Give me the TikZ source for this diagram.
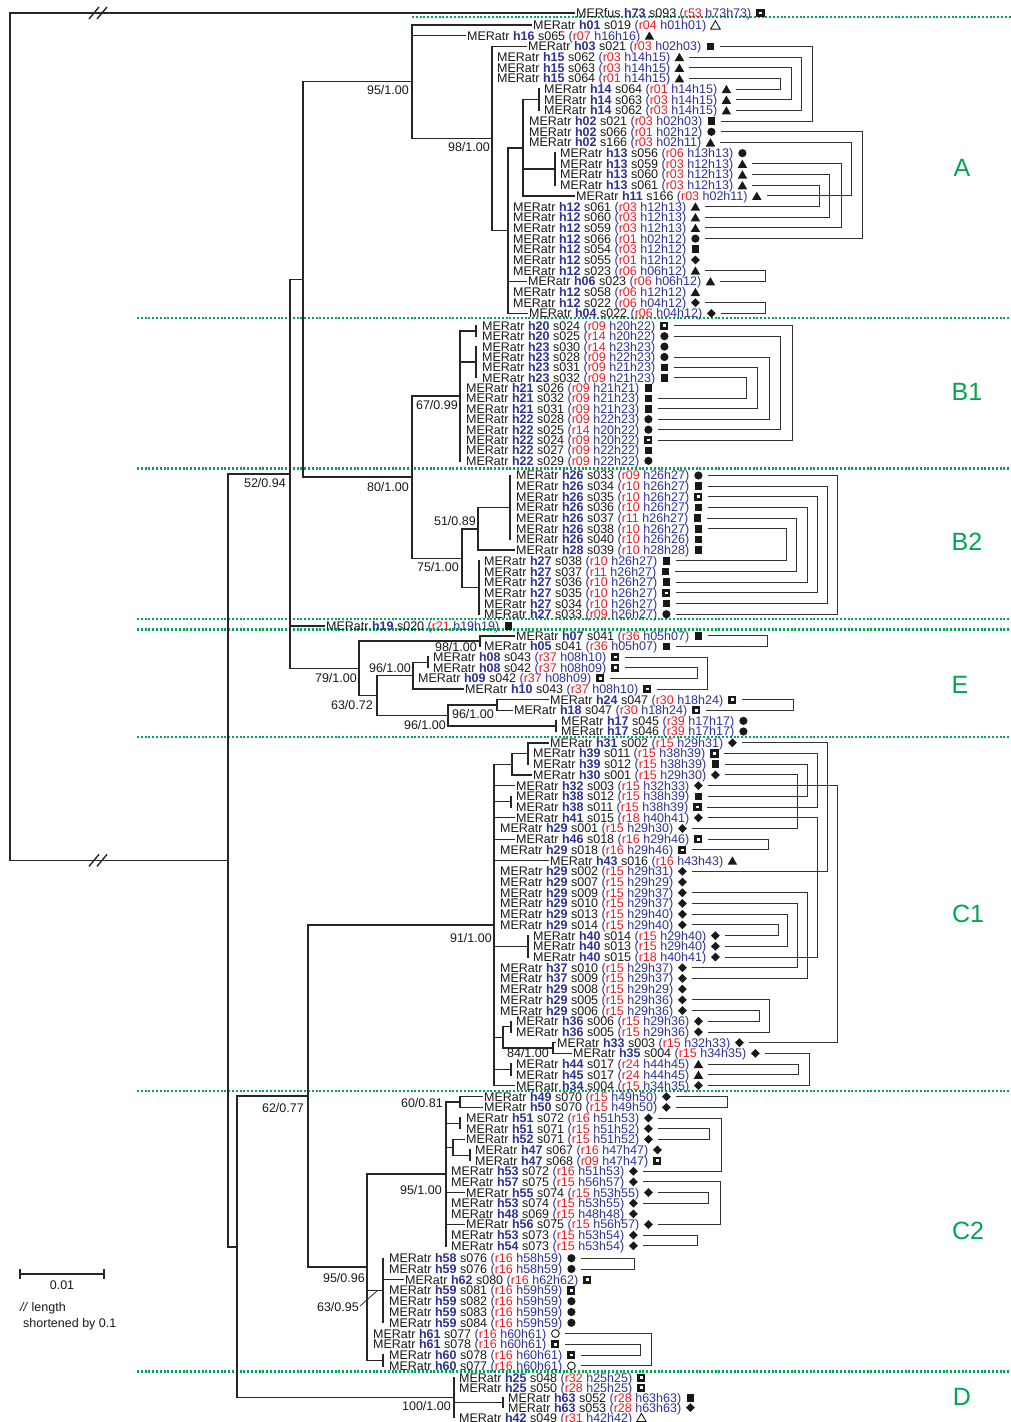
\documentclass[tikz,border=0pt]{standalone}
\usepackage{fontspec}
\setmainfont{Liberation Sans}
\usetikzlibrary{shapes.geometric}
\definecolor{hblue}{RGB}{46,49,146}
\definecolor{rred}{RGB}{237,28,36}
\definecolor{ggreen}{RGB}{0,166,81}
\newcommand\hB[1]{\textcolor{hblue}{\textbf{#1}}}
\newcommand\hN[1]{\textcolor{hblue}{#1}}
\newcommand\rR[1]{\textcolor{rred}{#1}}
\pgfmathdeclarefunction{rw}{1}{\pgfmathparse{(#1<2) ? 13 : ((#1<30) ? (25+(#1-2)*10.68) : ((#1<44) ? (325.8+(#1-30)*10.385) : ((#1<58) ? (475.5+(#1-44)*10.67) : ((#1<59) ? 626 : ((#1<69) ? (635.8+(#1-59)*10.63) : ((#1<102) ? (742.8+(#1-69)*10.71) : ((#1<117) ? (1096.7+(#1-102)*10.65) : ((#1<128) ? (1258.2+(#1-117)*10.76) : (1377.8+(#1-128)*9.95)))))))))}}
\newcommand\Lf[7]{%
 \node[lbl] (L#1) at (#2,{rw(#1)+4.47}) {MERatr \hB{#3} #4 \hN{(}\rR{#5} \hN{#6)}};
 \node[#7] (S#1) at ([xshift=9pt,yshift=4.47pt]L#1.base east) {};}
\newcommand\Hz[2]{\draw[tln] (#1,{rw(#2)}) -- ([xshift=-2pt,yshift=4.47pt]L#2.base west);}
\newcommand\Vt[3]{\draw[tln] (#1,{#2}) -- (#1,{#3});}
\newcommand\Hb[3]{\draw[tln] (#1,{#3}) -- (#2,{#3});}
\newcommand\Bk[3]{\draw[bkl] ([xshift=19pt,yshift=4.47pt]L#1.base east) -- (#3,{rw(#1)}) -- (#3,{rw(#2)}) -- ([xshift=19pt,yshift=4.47pt]L#2.base east);}
\newcommand\Bs[3]{\node[bsl] at (#1,{#2+4.47}) {#3};}
\begin{document}
\begin{tikzpicture}[x=1pt,y=-1pt,
  lbl/.style={anchor=base west,inner sep=0pt,font=\fontsize{12.5}{13}\selectfont,text=black!90},
  bsl/.style={anchor=base east,inner sep=0pt,font=\fontsize{12.5}{13}\selectfont,text=black!90},
  cll/.style={inner sep=0pt,font=\fontsize{25}{27}\selectfont,text=ggreen},
  tln/.style={line width=1.4pt,draw=black!85,line cap=rect},
  bkl/.style={line width=0.9pt,draw=black!80},
  gln/.style={draw=ggreen,line width=2.1pt,dash pattern=on 2pt off 1.8pt},
  sySq/.style={rectangle,fill=black!90,minimum size=7.6pt,inner sep=0pt},
  syDs/.style={rectangle,draw=black!90,fill=white,line width=2.7pt,minimum size=5.4pt,inner sep=0pt},
  syCi/.style={circle,fill=black!90,minimum size=8.2pt,inner sep=0pt},
  syOc/.style={circle,draw=black!90,line width=0.9pt,minimum size=7.8pt,inner sep=0pt},
  syTr/.style={regular polygon,regular polygon sides=3,fill=black!90,minimum size=11pt,inner sep=0pt,yshift=-1.3pt},
  syOt/.style={regular polygon,regular polygon sides=3,draw=black!90,line width=0.9pt,minimum size=11pt,inner sep=0pt,yshift=-1.3pt},
  syDm/.style={diamond,fill=black!90,minimum size=9pt,inner sep=0pt}]
\useasboundingbox (0,0) rectangle (1011,1422);
\fill[white] (0,0) rectangle (1011,1422);
% green separators
\draw[gln] (412,17) -- (1011,17);
\foreach \gy in {318,468.5,619,629.5,737,1091,1371.5} {\draw[gln] (137,\gy) -- (1011,\gy);}
% leaves
\node[lbl] (L1) at (576,{rw(1)+4.47}) {MERfus \hB{h73} s093 \hN{(}\rR{r53} \hN{h73h73)}};
\node[syDs] (S1) at ([xshift=9pt,yshift=4.47pt]L1.base east) {};
\Lf{2}{533}{h01}{s019}{r04}{h01h01}{syOt}
\Lf{3}{467}{h16}{s065}{r07}{h16h16}{syTr}
\Lf{4}{528}{h03}{s021}{r03}{h02h03}{sySq}
\Lf{5}{497}{h15}{s062}{r03}{h14h15}{syTr}
\Lf{6}{497}{h15}{s063}{r03}{h14h15}{syTr}
\Lf{7}{497}{h15}{s064}{r01}{h14h15}{syTr}
\Lf{8}{544}{h14}{s064}{r01}{h14h15}{syTr}
\Lf{9}{544}{h14}{s063}{r03}{h14h15}{syTr}
\Lf{10}{544}{h14}{s062}{r03}{h14h15}{syTr}
\Lf{11}{529}{h02}{s021}{r03}{h02h03}{sySq}
\Lf{12}{529}{h02}{s066}{r01}{h02h12}{syCi}
\Lf{13}{529}{h02}{s166}{r03}{h02h11}{syTr}
\Lf{14}{560}{h13}{s056}{r06}{h13h13}{syCi}
\Lf{15}{560}{h13}{s059}{r03}{h12h13}{syTr}
\Lf{16}{560}{h13}{s060}{r03}{h12h13}{syTr}
\Lf{17}{560}{h13}{s061}{r03}{h12h13}{syTr}
\Lf{18}{576}{h11}{s166}{r03}{h02h11}{syTr}
\Lf{19}{513}{h12}{s061}{r03}{h12h13}{syTr}
\Lf{20}{513}{h12}{s060}{r03}{h12h13}{syTr}
\Lf{21}{513}{h12}{s059}{r03}{h12h13}{syTr}
\Lf{22}{513}{h12}{s066}{r01}{h02h12}{syCi}
\Lf{23}{513}{h12}{s054}{r03}{h12h12}{sySq}
\Lf{24}{513}{h12}{s055}{r01}{h12h12}{syDm}
\Lf{25}{513}{h12}{s023}{r06}{h06h12}{syTr}
\Lf{26}{528}{h06}{s023}{r06}{h06h12}{syTr}
\Lf{27}{513}{h12}{s058}{r06}{h12h12}{syTr}
\Lf{28}{513}{h12}{s022}{r06}{h04h12}{syDm}
\Lf{29}{529}{h04}{s022}{r06}{h04h12}{syDm}
\Lf{30}{482}{h20}{s024}{r09}{h20h22}{syDs}
\Lf{31}{482}{h20}{s025}{r14}{h20h22}{syCi}
\Lf{32}{482}{h23}{s030}{r14}{h23h23}{syCi}
\Lf{33}{482}{h23}{s028}{r09}{h22h23}{syCi}
\Lf{34}{482}{h23}{s031}{r09}{h21h23}{sySq}
\Lf{35}{482}{h23}{s032}{r09}{h21h23}{sySq}
\Lf{36}{466}{h21}{s026}{r09}{h21h21}{sySq}
\Lf{37}{466}{h21}{s032}{r09}{h21h23}{sySq}
\Lf{38}{466}{h21}{s031}{r09}{h21h23}{sySq}
\Lf{39}{466}{h22}{s028}{r09}{h22h23}{syCi}
\Lf{40}{466}{h22}{s025}{r14}{h20h22}{syCi}
\Lf{41}{466}{h22}{s024}{r09}{h20h22}{syDs}
\Lf{42}{466}{h22}{s027}{r09}{h22h22}{sySq}
\Lf{43}{466}{h22}{s029}{r09}{h22h22}{syCi}
\Lf{44}{516}{h26}{s033}{r09}{h26h27}{syCi}
\Lf{45}{516}{h26}{s034}{r10}{h26h27}{sySq}
\Lf{46}{516}{h26}{s035}{r10}{h26h27}{syDs}
\Lf{47}{516}{h26}{s036}{r10}{h26h27}{sySq}
\Lf{48}{516}{h26}{s037}{r11}{h26h27}{sySq}
\Lf{49}{516}{h26}{s038}{r10}{h26h27}{sySq}
\Lf{50}{516}{h26}{s040}{r10}{h26h26}{sySq}
\Lf{51}{516}{h28}{s039}{r10}{h28h28}{sySq}
\Lf{52}{484}{h27}{s038}{r10}{h26h27}{sySq}
\Lf{53}{484}{h27}{s037}{r11}{h26h27}{sySq}
\Lf{54}{484}{h27}{s036}{r10}{h26h27}{sySq}
\Lf{55}{484}{h27}{s035}{r10}{h26h27}{syDs}
\Lf{56}{484}{h27}{s034}{r10}{h26h27}{sySq}
\Lf{57}{484}{h27}{s033}{r09}{h26h27}{syCi}
\Lf{58}{326}{h19}{s020}{r21}{h19h19}{sySq}
\Lf{59}{516}{h07}{s041}{r36}{h05h07}{sySq}
\Lf{60}{484}{h05}{s041}{r36}{h05h07}{sySq}
\Lf{61}{433}{h08}{s043}{r37}{h08h10}{syDs}
\Lf{62}{433}{h08}{s042}{r37}{h08h09}{syDs}
\Lf{63}{418}{h09}{s042}{r37}{h08h09}{syDs}
\Lf{64}{465}{h10}{s043}{r37}{h08h10}{syDs}
\Lf{65}{550}{h24}{s047}{r30}{h18h24}{syDs}
\Lf{66}{514}{h18}{s047}{r30}{h18h24}{syDs}
\Lf{67}{561}{h17}{s045}{r39}{h17h17}{syCi}
\Lf{68}{561}{h17}{s046}{r39}{h17h17}{syCi}
\Lf{69}{550}{h31}{s002}{r15}{h29h31}{syDm}
\Lf{70}{533}{h39}{s011}{r15}{h38h39}{syDs}
\Lf{71}{533}{h39}{s012}{r15}{h38h39}{sySq}
\Lf{72}{533}{h30}{s001}{r15}{h29h30}{syDm}
\Lf{73}{516}{h32}{s003}{r15}{h32h33}{syDm}
\Lf{74}{516}{h38}{s012}{r15}{h38h39}{sySq}
\Lf{75}{516}{h38}{s011}{r15}{h38h39}{syDs}
\Lf{76}{516}{h41}{s015}{r18}{h40h41}{syDm}
\Lf{77}{500}{h29}{s001}{r15}{h29h30}{syDm}
\Lf{78}{516}{h46}{s018}{r16}{h29h46}{syDs}
\Lf{79}{500}{h29}{s018}{r16}{h29h46}{syDs}
\Lf{80}{550}{h43}{s016}{r16}{h43h43}{syTr}
\Lf{81}{500}{h29}{s002}{r15}{h29h31}{syDm}
\Lf{82}{500}{h29}{s007}{r15}{h29h29}{syDm}
\Lf{83}{500}{h29}{s009}{r15}{h29h37}{syDm}
\Lf{84}{500}{h29}{s010}{r15}{h29h37}{syDm}
\Lf{85}{500}{h29}{s013}{r15}{h29h40}{syDm}
\Lf{86}{500}{h29}{s014}{r15}{h29h40}{syDm}
\Lf{87}{533}{h40}{s014}{r15}{h29h40}{syDm}
\Lf{88}{533}{h40}{s013}{r15}{h29h40}{syDm}
\Lf{89}{533}{h40}{s015}{r18}{h40h41}{syDm}
\Lf{90}{500}{h37}{s010}{r15}{h29h37}{syDm}
\Lf{91}{500}{h37}{s009}{r15}{h29h37}{syDm}
\Lf{92}{500}{h29}{s008}{r15}{h29h29}{syDm}
\Lf{93}{500}{h29}{s005}{r15}{h29h36}{syDm}
\Lf{94}{500}{h29}{s006}{r15}{h29h36}{syDm}
\Lf{95}{516}{h36}{s006}{r15}{h29h36}{syDm}
\Lf{96}{516}{h36}{s005}{r15}{h29h36}{syDm}
\Lf{97}{557}{h33}{s003}{r15}{h32h33}{syDm}
\Lf{98}{573}{h35}{s004}{r15}{h34h35}{syDm}
\Lf{99}{516}{h44}{s017}{r24}{h44h45}{syTr}
\Lf{100}{516}{h45}{s017}{r24}{h44h45}{syTr}
\Lf{101}{516}{h34}{s004}{r15}{h34h35}{syDm}
\Lf{102}{484}{h49}{s070}{r15}{h49h50}{syDm}
\Lf{103}{484}{h50}{s070}{r15}{h49h50}{syDm}
\Lf{104}{466}{h51}{s072}{r16}{h51h53}{syDm}
\Lf{105}{466}{h51}{s071}{r15}{h51h52}{syDm}
\Lf{106}{466}{h52}{s071}{r15}{h51h52}{syDm}
\Lf{107}{475}{h47}{s067}{r16}{h47h47}{syDm}
\Lf{108}{475}{h47}{s068}{r09}{h47h47}{syDs}
\Lf{109}{451}{h53}{s072}{r16}{h51h53}{syDm}
\Lf{110}{451}{h57}{s075}{r15}{h56h57}{syDm}
\Lf{111}{466}{h55}{s074}{r15}{h53h55}{syDm}
\Lf{112}{451}{h53}{s074}{r15}{h53h55}{syDm}
\Lf{113}{451}{h48}{s069}{r15}{h48h48}{syDm}
\Lf{114}{466}{h56}{s075}{r15}{h56h57}{syDm}
\Lf{115}{451}{h53}{s073}{r15}{h53h54}{syDm}
\Lf{116}{451}{h54}{s073}{r15}{h53h54}{syDm}
\Lf{117}{389}{h58}{s076}{r16}{h58h59}{syCi}
\Lf{118}{389}{h59}{s076}{r16}{h58h59}{syCi}
\Lf{119}{405}{h62}{s080}{r16}{h62h62}{syDs}
\Lf{120}{389}{h59}{s081}{r16}{h59h59}{syDs}
\Lf{121}{389}{h59}{s082}{r16}{h59h59}{syCi}
\Lf{122}{389}{h59}{s083}{r16}{h59h59}{syCi}
\Lf{123}{389}{h59}{s084}{r16}{h59h59}{syCi}
\Lf{124}{373}{h61}{s077}{r16}{h60h61}{syOc}
\Lf{125}{373}{h61}{s078}{r16}{h60h61}{syDs}
\Lf{126}{389}{h60}{s078}{r16}{h60h61}{syDs}
\Lf{127}{389}{h60}{s077}{r16}{h60h61}{syOc}
\Lf{128}{459}{h25}{s048}{r32}{h25h25}{syDs}
\Lf{129}{459}{h25}{s050}{r28}{h25h25}{syDs}
\Lf{130}{508}{h63}{s052}{r28}{h63h63}{sySq}
\Lf{131}{508}{h63}{s053}{r28}{h63h63}{syDm}
\Lf{132}{459}{h42}{s049}{r31}{h42h42}{syOt}
% ---------- node heights ----------
\pgfmathsetmacro\yHf{(rw(8)+rw(10))/2}
\pgfmathsetmacro\yHt{(rw(14)+rw(17))/2}
\pgfmathsetmacro\yNa{(\yHf+rw(18))/2}
\pgfmathsetmacro\yNb{(\yNa+rw(29))/2}
\pgfmathsetmacro\yNc{(rw(4)+\yNb)/2}
\pgfmathsetmacro\yNd{(rw(2)+\yNc)/2}
\pgfmathsetmacro\yBa{(rw(30)+rw(31))/2}
\pgfmathsetmacro\yBb{(rw(32)+rw(35))/2}
\pgfmathsetmacro\yBc{(\yBa+rw(43))/2}
\pgfmathsetmacro\yBd{(rw(44)+rw(50))/2}
\pgfmathsetmacro\yBe{(\yBd+rw(51))/2}
\pgfmathsetmacro\yBf{(rw(52)+rw(57))/2}
\pgfmathsetmacro\yBg{(\yBe+\yBf)/2}
\pgfmathsetmacro\yBh{(\yBc+\yBg)/2}
\pgfmathsetmacro\yAB{(\yNd+\yBh)/2}
\pgfmathsetmacro\yEa{(rw(59)+rw(60))/2}
\pgfmathsetmacro\yEb{(rw(61)+rw(62))/2}
\pgfmathsetmacro\yEc{(\yEb+rw(64))/2}
\pgfmathsetmacro\yEd{(rw(65)+rw(66))/2}
\pgfmathsetmacro\yEe{(rw(67)+rw(68))/2}
\pgfmathsetmacro\yEf{(\yEd+\yEe)/2}
\pgfmathsetmacro\yEg{(\yEc+\yEf)/2}
\pgfmathsetmacro\yEh{(\yEa+\yEg)/2}
\pgfmathsetmacro\yTop{(\yAB+\yEh)/2}
\pgfmathsetmacro\yCa{(rw(69)+rw(71))/2}
\pgfmathsetmacro\yCb{(\yCa+rw(72))/2}
\pgfmathsetmacro\yCc{(rw(74)+rw(75))/2}
\pgfmathsetmacro\yCd{(rw(87)+rw(89))/2}
\pgfmathsetmacro\yCe{(rw(95)+rw(96))/2}
\pgfmathsetmacro\yCf{(rw(97)+rw(98))/2}
\pgfmathsetmacro\yCg{(\yCe+\yCf)/2}
\pgfmathsetmacro\yCh{(rw(99)+rw(100))/2}
\pgfmathsetmacro\yCi{(\yCb+rw(101))/2}
\pgfmathsetmacro\yDa{(rw(102)+rw(103))/2}
\pgfmathsetmacro\yDb{(rw(104)+rw(105))/2}
\pgfmathsetmacro\yDc{(rw(107)+rw(108))/2}
\pgfmathsetmacro\yDd{(rw(106)+\yDc)/2}
\pgfmathsetmacro\yDe{(\yDa+rw(116))/2}
\pgfmathsetmacro\yDf{(rw(117)+rw(123))/2}
\pgfmathsetmacro\yDg{(rw(126)+rw(127))/2}
\pgfmathsetmacro\yDh{(\yDe+\yDg)/2}
\pgfmathsetmacro\yC{(\yCi+\yDh)/2}
\pgfmathsetmacro\yFa{(rw(130)+rw(131))/2}
\pgfmathsetmacro\yF{(rw(128)+rw(132))/2}
\pgfmathsetmacro\yG{(\yC+\yF)/2}
\pgfmathsetmacro\yH{(\yTop+\yG)/2}
% ---------- tree ----------
\Vt{10}{rw(1)}{\yH} \Hz{10}{1} \Hb{10}{228}{\yH}
\Vt{228}{\yTop}{\yG} \Hb{228}{290}{\yTop} \Hb{228}{237}{\yG}
\Vt{290}{\yAB}{\yEh} \Hb{290}{303}{\yAB} \Hz{290}{58} \Hb{290}{359}{\yEh}
\Vt{303}{\yNd}{\yBh} \Hb{303}{412}{\yNd} \Hb{303}{412}{\yBh}
% A
\Vt{412}{rw(2)}{\yNc} \Hz{412}{2} \Hz{412}{3} \Hb{412}{492}{\yNc}
\Vt{492}{rw(4)}{\yNb} \Hz{492}{4} \Hb{492}{508}{\yNb}
\Vt{539}{rw(8)}{rw(10)}
\Vt{523}{\yHf}{rw(18)} \Hb{523}{539}{\yHf} \Hb{523}{555}{\yHt} \Hz{523}{18}
\Vt{555}{rw(14)}{rw(17)}
\Vt{508}{\yNa}{rw(29)} \Hb{508}{523}{\yNa} \Hz{508}{26} \Hz{508}{29}
% B
\Vt{412}{\yBc}{\yBg} \Hb{412}{460}{\yBc} \Hb{412}{462}{\yBg}
\Vt{460}{\yBa}{rw(43)} \Hb{460}{476}{\yBa} \Hb{460}{476}{\yBb}
\Vt{476}{rw(30)}{rw(31)} \Vt{476}{rw(32)}{rw(35)}
\Vt{462}{\yBe}{\yBf} \Hb{462}{478}{\yBe} \Hb{462}{479}{\yBf}
\Vt{478}{\yBd}{rw(51)} \Hb{478}{510}{\yBd} \Hz{478}{51}
\Vt{510}{rw(44)}{rw(50)}
\Vt{479}{rw(52)}{rw(57)}
% E
\Vt{359}{\yEa}{\yEg} \Hb{359}{480}{\yEa} \Hb{359}{377}{\yEg}
\Vt{480}{rw(59)}{rw(60)} \Hz{480}{59}
\Vt{377}{\yEc}{\yEf} \Hb{377}{413}{\yEc} \Hb{377}{448}{\yEf}
\Vt{413}{\yEb}{rw(64)} \Hb{413}{428}{\yEb} \Hz{413}{64}
\Vt{428}{rw(61)}{rw(62)}
\Vt{448}{\yEd}{\yEe} \Hb{448}{497}{\yEd} \Hb{448}{556}{\yEe}
\Vt{497}{rw(65)}{rw(66)} \Hz{497}{65} \Hz{497}{66}
\Vt{556}{rw(67)}{rw(68)}
% C
\Vt{237}{\yC}{\yF} \Hb{237}{308}{\yC} \Hb{237}{454}{\yF}
\Vt{308}{\yCi}{\yDh} \Hb{308}{494}{\yCi} \Hb{308}{367}{\yDh}
\Vt{494}{\yCb}{rw(101)}
\Hb{494}{512}{\yCb} \Vt{512}{\yCa}{rw(72)} \Hb{512}{528}{\yCa} \Hz{512}{72}
\Vt{528}{rw(69)}{rw(71)} \Hz{528}{69}
\Hz{494}{73} \Hb{494}{511}{\yCc} \Vt{511}{rw(74)}{rw(75)} \Hz{494}{76}
\Hz{494}{78} \Hz{494}{80}
\Hb{494}{528}{\yCd} \Vt{528}{rw(87)}{rw(89)}
\Hb{494}{503}{\yCg} \Vt{503}{\yCe}{\yCf} \Hb{503}{511}{\yCe} \Vt{511}{rw(95)}{rw(96)}
\Hb{503}{553}{\yCf} \Vt{553}{rw(97)}{rw(98)} \Hz{553}{97} \Hz{553}{98}
\Hb{494}{511}{\yCh} \Vt{511}{rw(99)}{rw(100)} \Hz{494}{101}
\Vt{367}{\yDe}{\yDg} \Hb{367}{446}{\yDe} \Hb{367}{383}{\yDf} \Hb{367}{383}{\yDg}
\Vt{446}{\yDa}{rw(116)}
\Hb{446}{460}{\yDa} \Vt{460}{rw(102)}{rw(103)} \Hz{460}{102} \Hz{460}{103}
\Hb{446}{460}{\yDb} \Vt{460}{rw(104)}{rw(105)}
\Hb{446}{453}{\yDd} \Vt{453}{rw(106)}{\yDc} \Hz{453}{106} \Hb{453}{470}{\yDc} \Vt{470}{rw(107)}{rw(108)}
\Hz{446}{111} \Hz{446}{114}
\Vt{383}{rw(117)}{rw(123)} \Hz{383}{119}
\Vt{383}{rw(126)}{rw(127)}
\draw[line width=0.8pt,draw=black!85] (360,1306) -- (377,{\yDf+0.5});
\Vt{454}{rw(128)}{rw(132)} \Hb{454}{503}{\yFa} \Vt{503}{rw(130)}{rw(131)}
% break marks
\draw[tln,line cap=butt] (89,19) -- (99,7); \draw[tln,line cap=butt] (97,19) -- (107,7);
\draw[tln,line cap=butt] (89,{\yH+6}) -- (99,{\yH-6}); \draw[tln,line cap=butt] (97,{\yH+6}) -- (107,{\yH-6});
% support values
\Bs{409}{90}{95/1.00}
\Bs{490}{147}{98/1.00}
\Bs{458}{405}{67/0.99}
\Bs{409}{487}{80/1.00}
\Bs{286}{483}{52/0.94}
\Bs{476}{521}{51/0.89}
\Bs{459}{567}{75/1.00}
\Bs{477}{647}{98/1.00}
\Bs{411}{668}{96/1.00}
\Bs{357}{678}{79/1.00}
\Bs{373}{705}{63/0.72}
\Bs{494}{714}{96/1.00}
\Bs{446}{725}{96/1.00}
\Bs{492}{938}{91/1.00}
\Bs{549}{1053.5}{84/1.00}
\Bs{443}{1103}{60/0.81}
\Bs{304}{1108}{62/0.77}
\Bs{442}{1190}{95/1.00}
\Bs{365}{1278}{95/0.96}
\Bs{359}{1307}{63/0.95}
\Bs{451}{1406}{100/1.00}
% ---------- brackets ----------
\Bk{4}{11}{812} \Bk{5}{10}{801} \Bk{6}{9}{791} \Bk{7}{8}{780}
\Bk{12}{22}{862} \Bk{13}{18}{851} \Bk{15}{21}{841} \Bk{16}{20}{829} \Bk{17}{19}{819}
\Bk{25}{26}{765} \Bk{28}{29}{765}
\Bk{30}{41}{792} \Bk{31}{40}{780} \Bk{33}{39}{769} \Bk{34}{38}{757} \Bk{35}{37}{746}
\Bk{44}{57}{837} \Bk{45}{56}{827} \Bk{46}{55}{817} \Bk{47}{54}{807} \Bk{48}{53}{796} \Bk{49}{52}{786}
\Bk{59}{60}{767} \Bk{61}{64}{707} \Bk{62}{63}{697} \Bk{65}{66}{793}
\Bk{69}{81}{827} \Bk{70}{75}{817} \Bk{71}{74}{807} \Bk{72}{77}{797} \Bk{73}{97}{837}
\Bk{76}{89}{817} \Bk{78}{79}{768} \Bk{83}{91}{807} \Bk{84}{90}{797} \Bk{85}{88}{787}
\Bk{86}{87}{778} \Bk{93}{96}{769} \Bk{94}{95}{759} \Bk{98}{101}{809} \Bk{99}{100}{798}
\Bk{102}{103}{727} \Bk{104}{109}{721} \Bk{105}{106}{709} \Bk{110}{114}{720} \Bk{111}{112}{708}
\Bk{115}{116}{697} \Bk{117}{118}{634} \Bk{124}{127}{651} \Bk{125}{126}{640}
% clade letters
\node[cll] (cA) at (962,168) {A};
\node[cll] (cB1) at (967,392) {B1};
\node[cll] (cB2) at (967,542) {B2};
\node[cll] (cE) at (960,685) {E};
\node[cll] (cC1) at (968,914) {C1};
\node[cll] (cC2) at (968,1231) {C2};
\node[cll] (cD) at (962,1397) {D};
% scale bar
\draw[line width=1.2pt,draw=black!85] (20,1274) -- (104,1274);
\draw[line width=1.2pt,draw=black!85] (20,1269) -- (20,1279);
\draw[line width=1.2pt,draw=black!85] (104,1269) -- (104,1279);
\node[lbl,anchor=base] (sbl) at (62,1289.5) {0.01};
\node[lbl] (sb2) at (20,1311.5) {\textit{//} length};
\node[lbl] (sb3) at (23,1327.5) {shortened by 0.1};
\end{tikzpicture}
\end{document}
